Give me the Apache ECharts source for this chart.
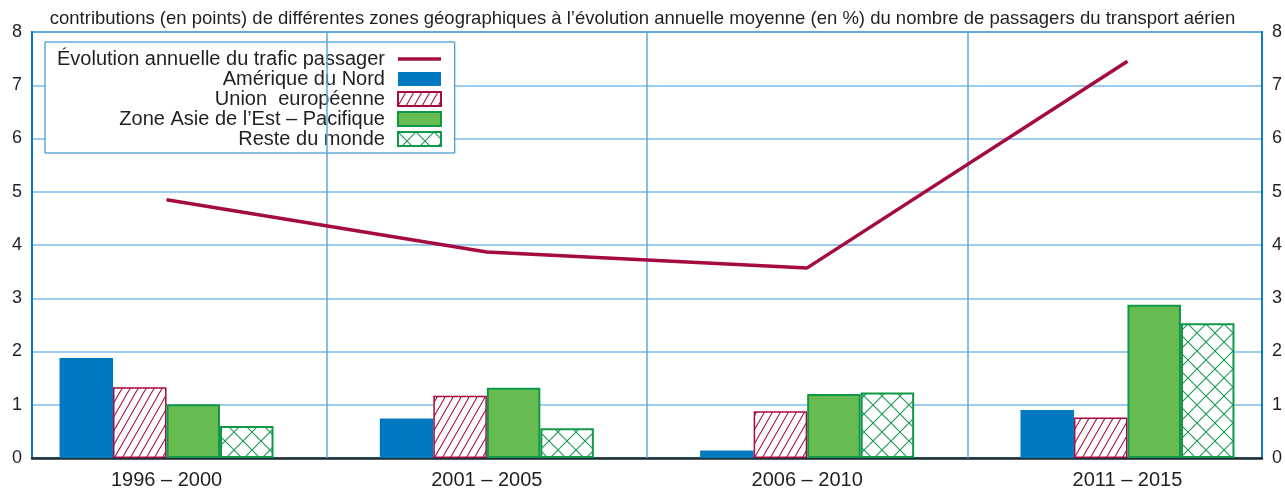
<!DOCTYPE html>
<html>
<head>
<meta charset="utf-8">
<script src="https://cdn.jsdelivr.net/npm/echarts@6/dist/echarts.min.js"></script>
<style>
  html, body { margin: 0; padding: 0; background: #fff; }
  #main { width: 1285px; height: 490px; }
</style>
</head>
<body>
<div id="main"></div>
<script>
  var periods = ['1996 – 2000', '2001 – 2005', '2006 – 2010', '2011 – 2015'];
  var trafic = [4.85, 3.87, 3.57, 7.45];
  var ameriqueNord = [1.88, 0.74, 0.14, 0.90];
  var unionEuropeenne = [1.33, 1.17, 0.88, 0.76];
  var asiePacifique = [1.01, 1.32, 1.20, 2.88];
  var resteMonde = [0.60, 0.56, 1.23, 2.53];

  var names = ['Évolution annuelle du trafic passager', 'Amérique du Nord', 'Union  européenne',
    'Zone Asie de l’Est – Pacifique', 'Reste du monde'];
  var subtitle = 'contributions (en points) de différentes zones géographiques à l’évolution annuelle moyenne (en %) du nombre de passagers du transport aérien';

  var font = 'Liberation Sans, Arial, sans-serif';
  var red = '#a50b40', blue = '#0079c2', green = '#109848';

  // hachures : simples obliques et croisillons
  function hatch(color) {
    var c = document.createElement('canvas');
    c.width = 8; c.height = 14;
    var ctx = c.getContext('2d');
    ctx.fillStyle = '#fff';
    ctx.fillRect(0, 0, 8, 14);
    ctx.strokeStyle = color;
    ctx.lineWidth = 1.1;
    ctx.beginPath();
    ctx.moveTo(0, 14); ctx.lineTo(8, 0);
    ctx.moveTo(-1, 1.75); ctx.lineTo(1, -1.75);
    ctx.moveTo(7, 15.75); ctx.lineTo(9, 12.25);
    ctx.stroke();
    return c;
  }
  function cross(color) {
    var c = document.createElement('canvas');
    c.width = 18; c.height = 18;
    var ctx = c.getContext('2d');
    ctx.fillStyle = '#fff';
    ctx.fillRect(0, 0, 18, 18);
    ctx.strokeStyle = color;
    ctx.lineWidth = 1.1;
    ctx.beginPath();
    ctx.moveTo(0, 0); ctx.lineTo(18, 18);
    ctx.moveTo(0, 18); ctx.lineTo(18, 0);
    ctx.stroke();
    return c;
  }

  function pairs(values) {
    return values.map(function (v, i) { return [i, v]; });
  }

  function barSeries(name, values, itemStyle) {
    return {
      name: name,
      type: 'bar',
      barWidth: 53.5,
      barGap: '0%',
      data: pairs(values),
      itemStyle: itemStyle
    };
  }

  var chart = echarts.init(document.getElementById('main'));
  chart.setOption({
    animation: false,
    textStyle: { fontFamily: font },
    title: {
      text: subtitle,
      left: 'center',
      top: 9,
      padding: 0,
      textStyle: { fontSize: 18.5, fontWeight: 'normal', color: '#231f20', fontFamily: font }
    },
    legend: {
      orient: 'vertical',
      left: 45,
      top: 42,
      align: 'right',
      padding: [7, 12, 4, 12],
      itemGap: 0,
      itemWidth: 43,
      itemHeight: 14,
      selectedMode: false,
      backgroundColor: '#fff',
      borderColor: '#1a7ec6',
      borderWidth: 1,
      textStyle: { fontSize: 20, lineHeight: 20, color: '#231f20', fontFamily: font, padding: [0, 8, 0, 0] },
      data: [
        { name: names[0], itemStyle: { opacity: 0 }, lineStyle: { width: 3.5 } },
        { name: names[1], icon: 'rect' },
        { name: names[2], icon: 'rect' },
        { name: names[3], icon: 'rect' },
        { name: names[4], icon: 'rect' }
      ]
    },
    grid: {
      left: 32,
      right: 23,
      top: 32,
      bottom: 30,
      show: true,
      borderColor: '#0a7cc6',
      borderWidth: 2
    },
    xAxis: {
      type: 'value',
      min: -0.42,
      max: 3.42,
      axisLine: { show: true, onZero: false, lineStyle: { color: '#1d2b33', width: 2.5 } },
      axisTick: { show: false },
      splitLine: { show: false },
      axisLabel: {
        customValues: [0, 1, 2, 3],
        formatter: function (v) { return periods[v] || ''; },
        fontSize: 20,
        color: '#231f20',
        margin: 12
      }
    },
    yAxis: [
      {
        type: 'value',
        min: 0,
        max: 8,
        interval: 1,
        axisLine: { show: true, onZero: false, lineStyle: { color: '#0a7cc6', width: 2 } },
        axisTick: { show: false },
        axisLabel: { fontSize: 18, color: '#231f20', margin: 10 },
        splitLine: { show: true, lineStyle: { color: '#7cbbe8', width: 1.5 } }
      },
      {
        type: 'value',
        position: 'right',
        min: 0,
        max: 8,
        interval: 1,
        axisLine: { show: true, onZero: false, lineStyle: { color: '#0a7cc6', width: 2 } },
        axisTick: { show: false },
        axisLabel: { fontSize: 18, color: '#231f20', margin: 10 },
        splitLine: { show: false }
      }
    ],
    series: [
      barSeries(names[1], ameriqueNord, { color: blue }),
      barSeries(names[2], unionEuropeenne, {
        color: { image: hatch(red), repeat: 'repeat' },
        borderColor: red,
        borderWidth: 1.5
      }),
      barSeries(names[3], asiePacifique, { color: '#66bc50', borderColor: green, borderWidth: 2 }),
      barSeries(names[4], resteMonde, {
        color: { image: cross('#1a9a50'), repeat: 'repeat' },
        borderColor: green,
        borderWidth: 2
      }),
      {
        name: names[0],
        type: 'line',
        data: pairs(trafic),
        symbol: 'none',
        z: 5,
        lineStyle: { color: red, width: 3.5 },
        itemStyle: { color: red },
        markLine: {
          silent: true,
          symbol: 'none',
          label: { show: false },
          lineStyle: { color: '#5ba9de', width: 1.5, type: 'solid' },
          data: periods.slice(1).map(function (p, i) { return { xAxis: i + 0.5 }; })
        }
      }
    ]
  });
</script>
</body>
</html>
